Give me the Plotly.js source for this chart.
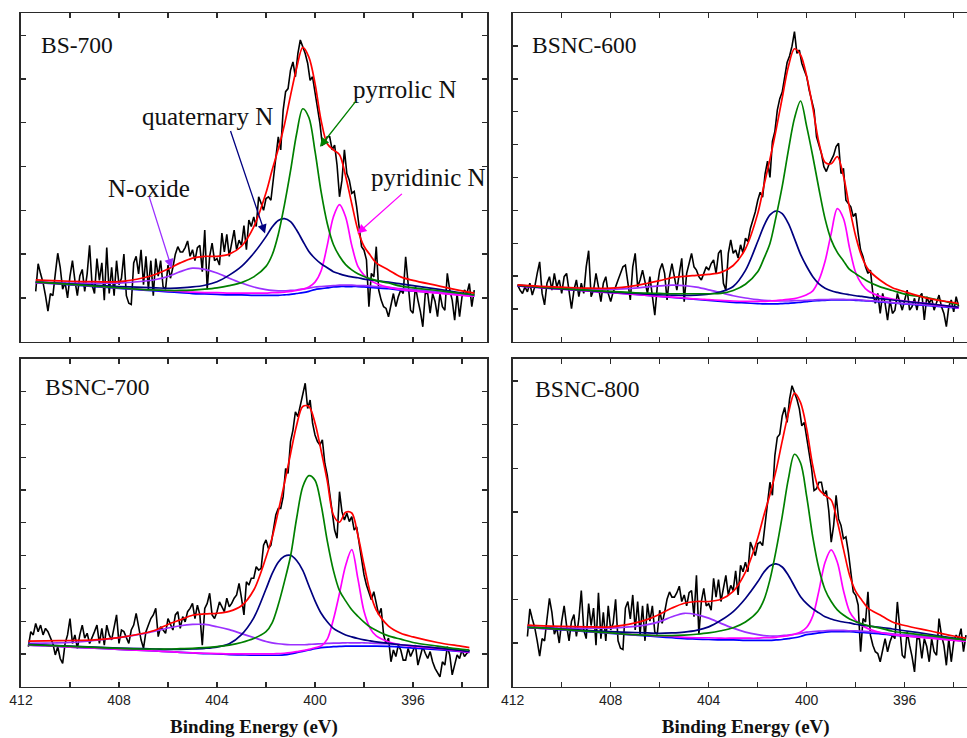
<!DOCTYPE html>
<html>
<head>
<meta charset="utf-8">
<script src="https://cdn.plot.ly/plotly-3.0.1.min.js"></script>
<style>
html, body { margin: 0; padding: 0; overflow: hidden; background: #fff; }
#chart { width: 990px; height: 738px; }
</style>
</head>
<body>
<div id="chart"></div>
<script>
// ---------- Raw N1s spectra (0.1 eV step, descending binding energy) ----------
// BS-700 and BSNC-800 show the same measured curve in the reference figure.
const rawStepEV = -0.1;
const bs700Start = 411.4;
const bs700Raw = [
1.15,1.78,1.55,1.35,1.05,0.70,1.10,1.05,1.55,2.02,
1.70,1.20,1.35,1.00,1.50,1.85,1.40,1.05,1.50,1.65,
1.15,1.55,2.20,1.30,1.10,1.90,1.40,1.80,0.95,2.15,
1.10,1.70,1.05,1.85,1.30,1.45,2.00,1.05,0.88,0.85,
1.80,1.95,1.55,2.10,1.30,1.95,1.20,1.85,1.05,1.90,
1.50,1.85,1.25,1.20,1.75,1.45,1.70,2.00,2.17,2.05,
2.05,2.15,2.30,1.95,2.10,1.85,2.15,2.20,1.60,2.55,
1.20,1.95,2.25,1.85,1.90,1.75,2.48,2.05,2.45,1.95,
2.25,2.55,2.10,2.32,2.20,2.65,2.10,2.78,2.63,2.85,
2.63,3.31,3.16,3.00,3.27,3.31,3.23,3.69,4.19,4.68,
4.38,5.29,5.71,5.78,6.20,6.39,6.05,6.58,6.89,6.74,
6.58,6.36,5.97,6.05,5.67,5.37,4.99,4.49,4.53,4.68,
4.68,4.38,4.49,4.03,3.31,3.69,4.38,3.84,3.69,3.39,
3.43,3.08,2.55,2.17,2.09,1.87,0.80,1.56,1.48,2.17,
1.18,0.95,0.80,0.76,0.57,0.88,1.10,0.80,1.03,1.18,
1.10,1.94,1.26,0.72,0.65,1.26,0.95,0.69,0.34,1.10,
1.10,0.65,1.10,0.92,0.57,1.10,0.80,0.72,1.56,1.18,
0.95,0.49,1.10,0.57,1.03,1.18,1.10,1.33,0.80,1.18];

const bsnc600Start = 411.8;
const bsnc600Raw = [
1.73,1.57,1.47,1.67,1.52,1.78,1.42,1.67,2.08,2.43,
1.47,1.12,1.78,1.98,1.57,2.08,1.67,1.88,1.47,1.98,
2.08,1.47,1.01,1.57,1.88,1.37,1.78,1.47,2.28,2.77,
1.37,1.57,2.08,1.67,1.22,1.78,1.98,1.47,1.22,1.52,
1.67,1.88,2.08,2.28,2.33,1.78,1.27,2.28,2.69,1.67,
1.88,2.18,1.78,1.47,1.98,1.37,0.81,1.67,2.18,2.38,
2.08,1.27,1.98,2.38,1.98,1.57,2.08,2.54,1.22,2.08,
2.38,2.69,2.28,2.18,1.98,1.88,2.08,2.28,2.18,2.38,
2.49,2.08,2.69,2.79,1.78,1.57,2.69,3.10,2.69,2.79,
2.55,2.95,2.70,3.15,3.05,3.45,3.70,3.95,4.30,4.55,
4.40,5.10,5.50,5.00,6.10,6.40,7.05,7.40,7.60,8.10,
8.50,8.70,9.00,9.44,8.78,8.88,8.48,8.27,8.07,7.66,
7.36,7.05,6.24,5.94,5.73,5.33,5.18,5.38,5.53,5.68,
5.94,6.04,5.12,5.28,4.31,4.21,4.11,3.81,3.91,3.30,
2.79,2.59,2.28,2.08,2.18,1.47,1.17,1.47,0.86,1.47,
1.17,0.66,1.27,0.86,0.96,1.47,1.17,0.96,1.27,1.57,
0.96,1.07,1.32,0.96,1.37,1.47,0.66,1.37,1.17,1.32,
0.96,1.22,1.42,1.07,0.86,0.46,1.07,1.27,0.91,1.37,1.07];

const bsnc700Start = 411.7;
const bsnc700Raw = [
1.22,1.68,1.58,1.93,1.68,1.88,1.58,1.78,1.68,1.48,
1.32,0.97,1.22,0.86,0.71,1.32,1.58,2.08,1.32,1.58,
1.17,1.58,1.88,1.48,1.63,1.32,1.48,1.68,1.88,1.32,
1.78,1.27,1.88,1.58,1.43,1.78,2.19,1.32,1.73,1.68,
1.48,1.32,1.73,1.88,2.24,1.78,1.43,1.17,1.68,1.88,
2.08,2.19,2.39,1.53,1.83,1.73,1.63,2.08,1.93,1.73,
2.19,2.29,1.78,2.14,1.98,2.29,2.39,2.54,2.08,2.49,
2.19,1.27,2.39,2.54,2.85,2.19,2.08,2.29,2.59,2.44,
2.29,2.70,2.44,2.54,2.70,2.80,3.15,2.70,2.19,3.20,
3.10,3.31,3.31,3.66,3.56,3.61,4.32,4.48,4.22,4.32,
4.83,5.24,5.44,5.44,5.80,6.66,6.51,7.48,7.83,8.39,
8.24,8.60,8.95,9.26,8.49,8.75,8.04,7.68,7.48,7.38,
7.53,6.82,6.46,5.85,5.24,4.78,4.53,5.95,5.34,5.09,
5.29,5.04,5.19,4.78,4.88,4.43,3.92,3.41,3.10,2.85,
2.65,2.90,2.59,2.19,2.39,1.58,1.32,1.48,0.76,1.12,
0.92,1.27,1.12,0.81,0.81,1.17,0.92,1.07,1.27,0.66,
0.92,1.22,1.02,0.86,1.07,0.76,0.56,0.41,0.30,0.76,
0.66,1.22,0.97,0.36,0.66,0.97,0.86,1.12,0.92,1.02,1.12];

// ---------- Peak-fit curves (binding energy, intensity in arbitrary units) ----------
// Set A: BS-700 (also used by BSNC-800)
const fitA_x = [411.4,411,410,409,408,407,406.5,406,405.5,405,404.5,404,403.5,403,402.5,402,401.75,401.5,401.25,401,400.75,400.5,400.25,400,399.75,399.5,399.25,399,398.75,398.5,398.25,398,397.75,397.5,397,396.5,396,395,394,393.5];
const backgroundA = [1.35,1.34,1.30,1.26,1.22,1.18,1.16,1.14,1.12,1.10,1.09,1.08,1.07,1.07,1.06,1.06,1.06,1.06,1.07,1.08,1.10,1.12,1.15,1.19,1.21,1.23,1.25,1.26,1.26,1.26,1.26,1.25,1.24,1.23,1.21,1.18,1.16,1.12,1.07,1.04];
const nOxideA = [1.37,1.36,1.34,1.34,1.34,1.38,1.42,1.49,1.60,1.68,1.65,1.57,1.45,1.34,1.25,1.19,1.17,1.16,1.16,1.17,1.18,1.20,1.22,1.25,1.26,1.27,1.28,1.29,1.29,1.29,1.28,1.28,1.27,1.26,1.24,1.21,1.19,1.14,1.08,1.05];
const pyridinicA = [1.35,1.34,1.31,1.27,1.23,1.19,1.18,1.16,1.15,1.13,1.12,1.12,1.11,1.11,1.11,1.11,1.12,1.12,1.13,1.15,1.17,1.20,1.25,1.36,1.62,2.20,2.85,3.13,2.85,2.20,1.72,1.52,1.40,1.33,1.24,1.19,1.16,1.11,1.06,1.04];
const pyrrolicA = [1.36,1.35,1.31,1.27,1.23,1.19,1.18,1.17,1.17,1.18,1.20,1.23,1.28,1.35,1.48,1.72,1.98,2.45,3.12,3.90,4.75,5.32,5.12,4.35,3.42,2.70,2.22,1.95,1.76,1.64,1.55,1.49,1.44,1.40,1.34,1.27,1.23,1.17,1.10,1.07];
const quaternaryA = [1.36,1.35,1.32,1.29,1.26,1.24,1.23,1.22,1.23,1.25,1.29,1.37,1.52,1.72,2.02,2.40,2.62,2.77,2.81,2.74,2.55,2.30,2.06,1.90,1.78,1.69,1.60,1.55,1.51,1.48,1.46,1.43,1.41,1.39,1.36,1.32,1.28,1.20,1.11,1.07];
const envelopeA = [1.41,1.40,1.38,1.37,1.37,1.46,1.54,1.66,1.80,1.91,1.95,1.95,2.00,2.18,2.62,3.40,3.92,4.40,4.95,5.62,6.25,6.72,6.50,5.90,5.05,4.52,4.38,4.27,3.78,3.15,2.55,2.18,1.98,1.80,1.64,1.48,1.40,1.28,1.16,1.11];

// Set B: BSNC-600
const fitB_x = [411.8,411,410,409,408,407,406.5,406,405.5,405,404.5,404,403.5,403,402.5,402,401.75,401.5,401.25,401,400.75,400.5,400.25,400,399.75,399.5,399.25,399,398.75,398.5,398.25,398,397.75,397.5,397,396.5,396,395,394,393.8];
const backgroundB = [1.70,1.65,1.60,1.55,1.49,1.44,1.41,1.38,1.35,1.32,1.29,1.26,1.23,1.20,1.18,1.16,1.15,1.15,1.15,1.16,1.17,1.18,1.20,1.22,1.24,1.25,1.26,1.27,1.27,1.27,1.27,1.26,1.25,1.24,1.21,1.18,1.15,1.10,1.04,1.02];
const nOxideB = [1.72,1.68,1.63,1.59,1.59,1.63,1.67,1.70,1.72,1.71,1.66,1.58,1.49,1.40,1.33,1.28,1.26,1.25,1.24,1.24,1.24,1.25,1.25,1.26,1.27,1.28,1.28,1.29,1.29,1.29,1.28,1.28,1.27,1.25,1.23,1.19,1.16,1.11,1.05,1.03];
const pyridinicB = [1.70,1.65,1.60,1.55,1.49,1.44,1.41,1.38,1.36,1.33,1.30,1.28,1.26,1.24,1.23,1.23,1.23,1.24,1.25,1.27,1.29,1.31,1.36,1.43,1.55,1.88,2.45,3.30,4.05,3.75,2.85,2.10,1.75,1.55,1.38,1.30,1.24,1.15,1.06,1.03];
const pyrrolicB = [1.72,1.67,1.62,1.57,1.53,1.49,1.48,1.47,1.46,1.46,1.46,1.46,1.47,1.56,1.75,2.13,2.53,2.99,3.81,4.73,5.82,6.80,7.33,6.55,5.64,4.65,3.74,3.10,2.72,2.46,2.20,2.07,1.95,1.83,1.67,1.56,1.45,1.33,1.16,1.12];
const quaternaryB = [1.71,1.66,1.61,1.56,1.51,1.47,1.45,1.43,1.42,1.41,1.42,1.45,1.52,1.68,2.17,3.05,3.52,3.86,3.98,3.90,3.60,3.14,2.66,2.29,1.98,1.76,1.63,1.55,1.50,1.46,1.43,1.40,1.38,1.35,1.31,1.27,1.23,1.15,1.07,1.05];
const envelopeB = [1.73,1.69,1.66,1.63,1.63,1.71,1.78,1.86,1.95,1.99,2.02,2.05,2.11,2.32,2.83,3.90,4.74,5.56,6.45,7.42,8.37,8.92,8.73,8.08,7.12,6.06,5.46,5.42,5.64,5.05,4.07,3.21,2.59,2.21,1.87,1.64,1.52,1.31,1.19,1.16];

// Set C: BSNC-700
const fitC_x = [411.7,411,410,409,408,407,406.5,406,405.5,405,404.5,404,403.5,403,402.5,402,401.75,401.5,401.25,401,400.75,400.5,400.25,400,399.75,399.5,399.25,399,398.75,398.5,398.25,398,397.75,397.5,397,396.5,396,395,394,393.7];
const backgroundC = [1.27,1.25,1.21,1.18,1.14,1.11,1.09,1.07,1.05,1.03,1.01,1.00,0.98,0.97,0.96,0.96,0.96,0.96,0.97,1.00,1.04,1.08,1.12,1.16,1.19,1.21,1.22,1.23,1.24,1.24,1.24,1.24,1.24,1.24,1.23,1.21,1.18,1.13,1.07,1.05];
const nOxideC = [1.32,1.33,1.35,1.41,1.50,1.62,1.70,1.79,1.86,1.90,1.90,1.83,1.74,1.62,1.50,1.38,1.34,1.31,1.29,1.28,1.28,1.28,1.29,1.30,1.31,1.32,1.33,1.33,1.34,1.34,1.34,1.34,1.33,1.32,1.31,1.28,1.25,1.19,1.10,1.07];
const pyridinicC = [1.27,1.25,1.21,1.18,1.14,1.11,1.09,1.07,1.05,1.03,1.02,1.01,1.00,1.00,1.00,1.00,1.00,1.01,1.02,1.04,1.07,1.10,1.14,1.19,1.24,1.45,2.05,2.85,3.70,4.18,3.30,2.30,1.78,1.55,1.37,1.28,1.23,1.16,1.08,1.05];
const pyrrolicC = [1.28,1.26,1.23,1.20,1.17,1.15,1.15,1.15,1.16,1.17,1.19,1.22,1.27,1.35,1.47,1.68,1.95,2.50,3.20,3.98,5.14,6.10,6.44,6.30,5.55,4.45,3.55,2.93,2.62,2.35,2.15,1.97,1.82,1.72,1.55,1.45,1.35,1.24,1.14,1.12];
const quaternaryC = [1.29,1.27,1.24,1.21,1.18,1.16,1.15,1.14,1.14,1.15,1.17,1.21,1.31,1.59,2.10,2.98,3.45,3.80,3.98,4.01,3.85,3.55,3.08,2.62,2.24,1.98,1.78,1.67,1.58,1.52,1.47,1.43,1.40,1.37,1.32,1.28,1.25,1.18,1.10,1.07];
const envelopeC = [1.39,1.40,1.41,1.43,1.50,1.63,1.73,1.90,2.04,2.18,2.22,2.24,2.30,2.47,2.95,3.95,4.55,5.35,6.20,7.10,7.98,8.55,8.55,8.05,7.20,6.28,5.24,5.02,5.32,5.30,4.62,3.72,2.88,2.34,1.85,1.63,1.52,1.35,1.23,1.19];

// ---------- Panels ----------
const panelNames = ['BS-700', 'BSNC-600', 'BSNC-700', 'BSNC-800'];
const xTickVals = [412, 408, 404, 400, 396];
const xTickText = ['412', '408', '404', '400', '396'];
const xAxisTitle = 'Binding Energy (eV)';
const peakLabels = ['quaternary N', 'pyrrolic N', 'pyridinic N', 'N-oxide'];

const panels = [
  {raw: bs700Raw,    start: bs700Start,    fx: fitA_x, bg: backgroundA, ox: nOxideA, pd: pyridinicA, pr: pyrrolicA, q: quaternaryA, env: envelopeA, yMax: 7.5},
  {raw: bsnc600Raw,  start: bsnc600Start,  fx: fitB_x, bg: backgroundB, ox: nOxideB, pd: pyridinicB, pr: pyrrolicB, q: quaternaryB, env: envelopeB, yMax: 10},
  {raw: bsnc700Raw,  start: bsnc700Start,  fx: fitC_x, bg: backgroundC, ox: nOxideC, pd: pyridinicC, pr: pyrrolicC, q: quaternaryC, env: envelopeC, yMax: 10},
  {raw: bs700Raw,    start: bs700Start,    fx: fitA_x, bg: backgroundA, ox: nOxideA, pd: pyridinicA, pr: pyrrolicA, q: quaternaryA, env: envelopeA, yMax: 7.5}
];

const colors = {raw: '#000000', bg: '#0000ff', ox: '#9b30ff', pd: '#ff00ff', pr: '#008000', q: '#000080', env: '#ff0000'};

const W = 990, H = 738;
const xDomains = [[21 / W, 487 / W], [512.7 / W, 978.7 / W]];
const yDomains = [[1 - 341.7 / H, 1 - 13.3 / H], [1 - 686.7 / H, 1 - 359 / H]];

const traces = [];
panels.forEach((p, k) => {
  const sfx = k === 0 ? '' : String(k + 1);
  const xa = 'x' + sfx, ya = 'y' + sfx;
  traces.push({type: 'scatter', mode: 'lines', x0: p.start, dx: rawStepEV, y: p.raw, xaxis: xa, yaxis: ya,
    line: {color: colors.raw, width: 1.6}, hoverinfo: 'skip'});
  const fits = [['bg', p.bg], ['ox', p.ox], ['pd', p.pd], ['q', p.q], ['pr', p.pr], ['env', p.env]];
  fits.forEach(([key, arr]) => {
    traces.push({type: 'scatter', mode: 'lines', x: p.fx, y: arr, xaxis: xa, yaxis: ya,
      line: {color: colors[key], width: 1.7, shape: 'spline', smoothing: 0.9}, hoverinfo: 'skip'});
  });
});

const frameColor = '#2a2a2a';
const layout = {
  width: W, height: H,
  margin: {l: 0, r: 0, t: 0, b: 0},
  paper_bgcolor: '#ffffff', plot_bgcolor: '#ffffff',
  showlegend: false,
  font: {family: 'Liberation Sans, Arial, sans-serif', size: 14, color: '#222'},
  annotations: []
};

panels.forEach((p, k) => {
  const sfx = k === 0 ? '' : String(k + 1);
  const col = k % 2, row = Math.floor(k / 2);
  const isBottom = row === 1;
  layout['xaxis' + sfx] = {
    domain: xDomains[col], anchor: 'y' + sfx,
    range: [412, 392.98], autorange: false,
    tickmode: 'array', tickvals: xTickVals, ticktext: xTickText,
    showticklabels: isBottom,
    ticks: 'inside', ticklen: 5, tickwidth: 1.3, tickcolor: frameColor,
    minor: {dtick: 2, ticks: 'inside', ticklen: 5, tickwidth: 1.3, tickcolor: frameColor},
    showline: true, linecolor: frameColor, linewidth: 1.6, mirror: 'ticks',
    showgrid: false, zeroline: false,
    tickfont: {family: 'Liberation Sans, Arial, sans-serif', size: 14, color: '#222'},
    title: isBottom ? {text: '<b>' + xAxisTitle + '</b>', standoff: 12,
      font: {family: 'Liberation Serif, Times New Roman, serif', size: 19, color: '#111'}} : {text: ''}
  };
  layout['yaxis' + sfx] = {
    domain: yDomains[row], anchor: 'x' + sfx,
    range: [0, p.yMax], autorange: false, dtick: 1, tick0: 0,
    showticklabels: false,
    ticks: 'inside', ticklen: 5, tickwidth: 1.3, tickcolor: frameColor,
    showline: true, linecolor: frameColor, linewidth: 1.6, mirror: 'ticks',
    showgrid: false, zeroline: false
  };
});

// Panel names
const namePos = [[0.0393, 0.9035], [0.0371, 0.9035], [0.0466, 0.916], [0.0442, 0.9085]];
panelNames.forEach((name, k) => {
  const sfx = k === 0 ? '' : String(k + 1);
  layout.annotations.push({
    text: name, xref: 'x' + sfx + ' domain', yref: 'y' + sfx + ' domain',
    x: namePos[k][0], y: namePos[k][1], xanchor: 'left', yanchor: 'middle', showarrow: false,
    font: {family: 'Liberation Serif, Times New Roman, serif', size: 23.5, color: '#111'}
  });
});

// Peak labels (BS-700 panel) and their arrows
const labelPos = [[404.37, 5.15], [396.35, 5.75], [395.36, 3.74], [406.78, 3.51]];
const arrowTips = [[402.04, 2.47], [399.8, 4.45], [398.27, 2.47], [405.85, 1.68]];
const arrowTails = [[-35, -104], [37, -47], [46, -41], [-23, -73]];
const arrowColors = [colors.q, colors.pr, colors.pd, colors.ox];
peakLabels.forEach((lab, k) => {
  layout.annotations.push({
    text: lab, xref: 'x', yref: 'y', x: labelPos[k][0], y: labelPos[k][1],
    xanchor: 'center', yanchor: 'middle', showarrow: false,
    font: {family: 'Liberation Serif, Times New Roman, serif', size: 25, color: '#111'}
  });
  layout.annotations.push({
    text: '', xref: 'x', yref: 'y', x: arrowTips[k][0], y: arrowTips[k][1],
    ax: arrowTails[k][0], ay: arrowTails[k][1], showarrow: true,
    arrowhead: 2, arrowsize: 1.4, arrowwidth: 1.3, arrowcolor: arrowColors[k], standoff: 0
  });
});

Plotly.newPlot('chart', traces, layout, {displayModeBar: false, staticPlot: true});
</script>
</body>
</html>
